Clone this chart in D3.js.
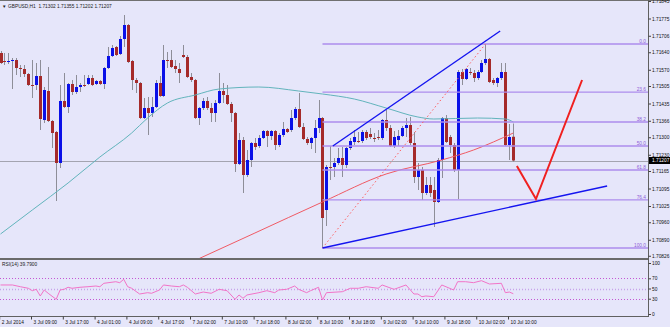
<!DOCTYPE html>
<html>
<head>
<meta charset="utf-8">
<script src="https://cdn.jsdelivr.net/npm/d3@7"></script>
<style>
  body { margin: 0; background: #e6e6fa; }
  svg { display: block; }
</style>
</head>
<body>
<svg id="chart" width="670" height="327"></svg>
<script>
// GBPUSD H1 candles, one entry per bar (bar 0 = first visible bar)
const opens = [1.71637,1.71605,1.71601,1.71605,1.71609,1.71577,1.71573,1.71553,1.71509,1.71509,
  1.71545,1.71369,1.71485,1.71365,1.71321,1.71197,1.71445,1.71421,1.71513,1.71481,
  1.71501,1.71509,1.71513,1.71537,1.71513,1.71525,1.71513,1.71577,1.71625,1.71661,
  1.71633,1.71693,1.71749,1.71605,1.71529,1.71517,1.71377,1.71417,1.71397,1.71421,
  1.71517,1.71465,1.71609,1.71609,1.71585,1.71573,1.71629,1.71621,1.71541,1.71529,
  1.71377,1.71417,1.71445,1.71417,1.71397,1.71437,1.71485,1.71469,1.71433,1.71397,
  1.71193,1.71289,1.71149,1.71209,1.71277,1.71265,1.71297,1.71325,1.71305,1.71325,
  1.71269,1.71309,1.71333,1.71329,1.71377,1.71413,1.71341,1.71293,1.71277,1.71297,
  1.71337,1.71377,1.71009,1.71181,1.71181,1.71197,1.71217,1.71189,1.71257,1.71281,
  1.71285,1.71285,1.71321,1.71313,1.71297,1.71301,1.71297,1.71369,1.71337,1.71265,
  1.71289,1.71305,1.71337,1.71349,1.71277,1.71141,1.71169,1.71077,1.71109,1.71089,
  1.71041,1.71209,1.71377,1.71301,1.71269,1.71169,1.71561,1.71533,1.71561,1.71557,
  1.71537,1.71561,1.71597,1.71613,1.71529,1.71517,1.71537,1.71561,1.71269,1.71302];
const highs = [1.71645,1.71637,1.71637,1.71617,1.71617,1.71589,1.71589,1.71557,1.71609,1.71597,
  1.71609,1.71501,1.71581,1.71369,1.71325,1.71509,1.71557,1.71517,1.71529,1.71549,
  1.71517,1.71549,1.71549,1.71549,1.71529,1.71529,1.71581,1.71661,1.71669,1.71665,
  1.71705,1.71789,1.71753,1.71609,1.71537,1.71521,1.71457,1.71461,1.71461,1.71529,
  1.71545,1.71669,1.71641,1.71649,1.71609,1.71597,1.71669,1.71629,1.71557,1.71533,
  1.71421,1.71457,1.71461,1.71437,1.71449,1.71557,1.71517,1.71509,1.71441,1.71401,
  1.71317,1.71301,1.71249,1.71281,1.71297,1.71309,1.71329,1.71329,1.71329,1.71329,
  1.71317,1.71361,1.71337,1.71409,1.71421,1.71477,1.71357,1.71301,1.71301,1.71369,
  1.71449,1.71381,1.71189,1.71265,1.71217,1.71257,1.71261,1.71261,1.71297,1.71329,
  1.71321,1.71329,1.71329,1.71337,1.71317,1.71329,1.71373,1.71409,1.71349,1.71325,
  1.71329,1.71345,1.71377,1.71381,1.71321,1.71197,1.71181,1.71141,1.71141,1.71141,
  1.71217,1.71381,1.71389,1.71309,1.71277,1.71569,1.71573,1.71577,1.71577,1.71569,
  1.71569,1.71609,1.71673,1.71617,1.71537,1.71541,1.71597,1.71597,1.71353,1.71355];
const lows = [1.71593,1.71589,1.71593,1.71493,1.71549,1.71541,1.71541,1.71505,1.71457,1.71489,
  1.71329,1.71357,1.71361,1.71257,1.71045,1.71177,1.71417,1.71397,1.71469,1.71473,
  1.71481,1.71501,1.71509,1.71505,1.71509,1.71509,1.71493,1.71573,1.71621,1.71625,
  1.71629,1.71661,1.71597,1.71489,1.71477,1.71373,1.71373,1.71309,1.71381,1.71417,
  1.71461,1.71461,1.71577,1.71577,1.71557,1.71517,1.71617,1.71537,1.71521,1.71373,
  1.71349,1.71409,1.71409,1.71361,1.71361,1.71433,1.71437,1.71429,1.71361,1.71161,
  1.71189,1.71077,1.71141,1.71181,1.71249,1.71257,1.71293,1.71261,1.71289,1.71249,
  1.71261,1.71301,1.71317,1.71321,1.71369,1.71337,1.71289,1.71269,1.71253,1.71237,
  1.71317,1.70857,1.70945,1.71129,1.71141,1.71189,1.71141,1.71177,1.71249,1.71269,
  1.71277,1.71277,1.71289,1.71293,1.71281,1.71289,1.71289,1.71325,1.71261,1.71257,
  1.71265,1.71301,1.71301,1.71269,1.71117,1.71089,1.71049,1.71069,1.71061,1.70941,
  1.71037,1.71137,1.71277,1.71237,1.71161,1.71053,1.71509,1.71529,1.71549,1.71521,
  1.71529,1.71557,1.71589,1.71517,1.71509,1.71501,1.71529,1.71265,1.71209,1.71202];
const closes = [1.71597,1.71601,1.71605,1.71609,1.71577,1.71573,1.71553,1.71509,1.71505,1.71545,
  1.71373,1.71489,1.71365,1.71317,1.71197,1.71445,1.71421,1.71513,1.71481,1.71501,
  1.71509,1.71505,1.71537,1.71509,1.71525,1.71513,1.71577,1.71625,1.71657,1.71629,
  1.71693,1.71749,1.71601,1.71529,1.71517,1.71377,1.71417,1.71397,1.71421,1.71517,
  1.71465,1.71609,1.71605,1.71581,1.71573,1.71557,1.71621,1.71541,1.71529,1.71377,
  1.71417,1.71445,1.71417,1.71397,1.71437,1.71485,1.71469,1.71433,1.71397,1.71193,
  1.71289,1.71149,1.71209,1.71277,1.71261,1.71297,1.71325,1.71305,1.71325,1.71269,
  1.71309,1.71333,1.71321,1.71377,1.71413,1.71341,1.71293,1.71277,1.71297,1.71337,
  1.71377,1.70977,1.71181,1.71177,1.71197,1.71217,1.71189,1.71257,1.71285,1.71301,
  1.71281,1.71321,1.71297,1.71301,1.71293,1.71297,1.71369,1.71337,1.71265,1.71301,
  1.71305,1.71337,1.71349,1.71277,1.71141,1.71169,1.71077,1.71109,1.71077,1.71041,
  1.71209,1.71377,1.71281,1.71269,1.71169,1.71561,1.71533,1.71573,1.71557,1.71537,
  1.71561,1.71597,1.71613,1.71521,1.71517,1.71537,1.71561,1.71269,1.71301,1.71207];

// moving averages, read at sample bars
const tealMaBars = [0,8,17,25,33,37,42,49,55,65,75,81,89,97,105,109,120,127,129];
const tealMaVals = [1.70913,1.71009,1.71117,1.71221,1.71317,1.71377,1.71437,1.71469,1.71493,1.71501,
  1.71485,1.71473,1.71453,1.71417,1.71381,1.71373,1.71377,1.71373,1.71361];
const redMaBars = [50,64,81,97,111,119,129];
const redMaVals = [1.70815,1.70917,1.71041,1.71153,1.71209,1.71249,1.71317];

// RSI(14) read at sample bars
const rsiBars = [0,3,5,7,8,9,10,11,12,14,15,16,17,18,20,22,24,25,26,29,30,31,32,33,35,37,38,40,41,43,
  45,46,47,49,51,53,55,57,59,60,61,62,65,67,69,70,72,74,75,77,78,80,81,82,86,88,90,92,95,96,
  99,102,104,105,106,107,109,111,114,115,117,119,121,123,126,127,128,129];
const rsiVals = [56.9,56.9,53.5,50.4,45.7,48.4,35.3,47.1,40.6,28.8,47.1,48.4,52.4,50.4,52.4,53.5,54.9,53.5,60.2,63.3,
  61.4,68.0,53.5,50.4,39.2,41.8,40.6,47.1,56.9,54.9,53.5,56.9,52.4,39.2,43.1,40.6,48.4,45.7,28.8,37.3,
  30.8,37.3,41.8,45.7,41.8,47.1,48.4,54.9,48.4,41.8,45.7,52.4,27.5,41.8,43.7,50.4,50.4,53.5,50.4,56.9,
  48.4,56.9,39.2,39.2,33.9,35.3,33.9,56.9,47.1,63.3,63.3,61.4,65.3,58.8,60.2,41.8,43.1,39.79];
const rsiLevels = [70, 50, 30];
const rsiTicks = [100, 70, 50, 30, 0];

// fibonacci retracement drawn from the bar 81 low to the bar 122 high
const fibLevels = [0, 23.6, 38.2, 50, 61.8, 76.4, 100];
const fibLowBar = 81, fibHighBar = 122;

// hand-drawn objects: [bar, price] anchors
const upperTrend = [[83.6, 1.71265], [125.7, 1.71725]];
const lowerTrend = [[81, 1.70857], [152.6, 1.71105]];
const arrowPath = [[129.9, 1.71185], [134.7, 1.71053], [146.3, 1.71529]];

const priceTicks = [1.71845,1.71775,1.71706,1.71640,1.71570,1.71505,1.71435,1.71366,1.71300,1.71230,
  1.71165,1.71095,1.71025,1.70960,1.70890,1.70826];
const timeTickBars = [0,8,16,24,32,40,48,56,64,72,80,88,96,104,112,120,128];
const timeLabels = ["2 Jul 2014","3 Jul 09:00","3 Jul 17:00","4 Jul 01:00","4 Jul 09:00","4 Jul 17:00",
  "7 Jul 02:00","7 Jul 10:00","7 Jul 18:00","8 Jul 02:00","8 Jul 10:00","8 Jul 18:00","9 Jul 02:00",
  "9 Jul 10:00","9 Jul 18:00","10 Jul 02:00","10 Jul 10:00"];

const W = 648, mainBottom = 258, rsiTop = 260, rsiBottom = 316;
const font = "'Liberation Sans', Arial, sans-serif";
const fs = 4.8;

const svg = d3.select("#chart");
svg.append("rect").attr("width", 670).attr("height", 327).attr("fill", "#e6e6fa");

const x = d3.scaleLinear().domain([0, 129]).range([0.5, 513.3]);
const y = d3.scaleLinear().domain([1.70825, 1.71849]).range([256, 0]);
const ry = d3.scaleLinear().domain([0, 100]).range([314, 263]);

const defs = svg.append("defs");
defs.append("clipPath").attr("id", "clipMain").append("rect")
  .attr("x", 0).attr("y", 0).attr("width", W).attr("height", mainBottom);
defs.append("clipPath").attr("id", "clipRsi").append("rect")
  .attr("x", 0).attr("y", rsiTop).attr("width", W).attr("height", rsiBottom - rsiTop);

const main = svg.append("g").attr("clip-path", "url(#clipMain)");
const last = closes[closes.length - 1];

// current price line
main.append("line")
  .attr("x1", 0).attr("x2", W)
  .attr("y1", Math.round(y(last)) + 0.5).attr("y2", Math.round(y(last)) + 0.5)
  .attr("stroke", "#a4a4b0").attr("stroke-width", 1);

const bars = opens.map((o, i) => ({ i: i, o: o, h: highs[i], l: lows[i], c: closes[i] }));

main.selectAll("line.wick")
  .data(bars)
  .join("line")
  .attr("class", "wick")
  .attr("x1", d => Math.round(x(d.i)) + 0.5)
  .attr("x2", d => Math.round(x(d.i)) + 0.5)
  .attr("y1", d => y(d.h))
  .attr("y2", d => y(d.l))
  .attr("stroke", "#8e8e98")
  .attr("stroke-width", 1);

main.selectAll("rect.body")
  .data(bars)
  .join("rect")
  .attr("class", "body")
  .attr("x", d => Math.round(x(d.i)) - 1)
  .attr("width", 3)
  .attr("y", d => Math.min(y(d.o), y(d.c)))
  .attr("height", d => Math.max(1, Math.abs(y(d.o) - y(d.c))))
  .attr("fill", d => d.c > d.o ? "#0a10e8" : (d.c < d.o ? "#a52a2a" : "#303030"));

// moving averages
const maLine = d3.line().x(d => x(d[0])).y(d => y(d[1])).curve(d3.curveMonotoneX);
main.append("path")
  .attr("d", maLine(tealMaBars.map((b, i) => [b, tealMaVals[i]])))
  .attr("fill", "none").attr("stroke", "#62b4bc").attr("stroke-width", 1);
main.append("path")
  .attr("d", maLine(redMaBars.map((b, i) => [b, redMaVals[i]])))
  .attr("fill", "none").attr("stroke", "#f05a64").attr("stroke-width", 1);

// fibonacci levels
const fibHigh = highs[fibHighBar], fibLow = lows[fibLowBar];
const fibPrice = lv => fibHigh - (fibHigh - fibLow) * lv / 100;
main.selectAll("line.fib")
  .data(fibLevels)
  .join("line")
  .attr("class", "fib")
  .attr("x1", x(fibLowBar)).attr("x2", W)
  .attr("y1", d => y(fibPrice(d))).attr("y2", d => y(fibPrice(d)))
  .attr("stroke", "#ad8ded").attr("stroke-width", 1.4);
main.selectAll("text.fib")
  .data(fibLevels)
  .join("text")
  .attr("class", "fib")
  .attr("x", W - 2)
  .attr("y", d => y(fibPrice(d)) - 1.2)
  .attr("text-anchor", "end")
  .attr("font-family", font).attr("font-size", fs)
  .attr("fill", "#8e5ed8")
  .text(d => d.toFixed(1));

// fib base line
main.append("line")
  .attr("x1", x(fibLowBar)).attr("y1", y(fibLow))
  .attr("x2", x(fibHighBar)).attr("y2", y(fibHigh))
  .attr("stroke", "#ff5a5a").attr("stroke-width", 1)
  .attr("stroke-dasharray", "1.5,2.5");

// trend lines and arrow
const objLine = d3.line().x(d => x(d[0])).y(d => y(d[1]));
main.append("path").attr("d", objLine(upperTrend))
  .attr("fill", "none").attr("stroke", "#1414f0").attr("stroke-width", 1.4);
main.append("path").attr("d", objLine(lowerTrend))
  .attr("fill", "none").attr("stroke", "#1414f0").attr("stroke-width", 1.4);
main.append("path").attr("d", objLine(arrowPath))
  .attr("fill", "none").attr("stroke", "#f02020").attr("stroke-width", 2)
  .attr("stroke-linejoin", "miter");

// header
svg.append("text").attr("x", 2).attr("y", 7.5)
  .attr("font-family", font).attr("font-size", 4.5).attr("fill", "#202020")
  .text("\u25BC");
svg.append("text").attr("x", 8).attr("y", 7.5)
  .attr("font-family", font).attr("font-size", fs).attr("fill", "#202020")
  .attr("xml:space", "preserve")
  .text("GBPUSD,H1  1.71302 1.71355 1.71202 1.71207");

// RSI panel
const rsi = svg.append("g").attr("clip-path", "url(#clipRsi)");
rsi.selectAll("line.lvl")
  .data(rsiLevels)
  .join("line")
  .attr("class", "lvl")
  .attr("x1", 0).attr("x2", W)
  .attr("y1", d => Math.round(ry(d)) + 0.5).attr("y2", d => Math.round(ry(d)) + 0.5)
  .attr("stroke", d => d === 50 ? "#c7a2ea" : "#c457d4")
  .attr("stroke-width", d => d === 50 ? 1.4 : 1)
  .attr("stroke-dasharray", "1,2");
rsi.append("path")
  .attr("d", d3.line().x(d => x(d[0])).y(d => ry(d[1]))(rsiBars.map((b, i) => [b, rsiVals[i]])))
  .attr("fill", "none").attr("stroke", "#f274c8").attr("stroke-width", 1);
svg.append("text").attr("x", 2).attr("y", 266)
  .attr("font-family", font).attr("font-size", fs).attr("fill", "#202020")
  .text("RSI(14) " + rsiVals[rsiVals.length - 1].toFixed(4));

// frame lines
svg.append("line").attr("x1", 0).attr("x2", 670).attr("y1", 0.5).attr("y2", 0.5)
  .attr("stroke", "#707070");
svg.append("line").attr("x1", 0).attr("x2", W).attr("y1", 259).attr("y2", 259)
  .attr("stroke", "#6a6a6a").attr("stroke-width", 2);
svg.append("line").attr("x1", 0).attr("x2", W + 0.5).attr("y1", rsiBottom + 0.5).attr("y2", rsiBottom + 0.5)
  .attr("stroke", "#606060");
svg.append("line").attr("x1", W + 0.5).attr("x2", W + 0.5).attr("y1", 0).attr("y2", rsiBottom + 1)
  .attr("stroke", "#606060");

function styleAxis(g) {
  g.select(".domain").remove();
  g.attr("font-family", font).attr("font-size", fs).attr("color", "#404040");
  g.selectAll("text").attr("fill", "#101010");
}

// price axis
svg.append("g")
  .attr("transform", `translate(${W + 0.5},0)`)
  .call(d3.axisRight(y).tickValues(priceTicks).tickFormat(d3.format(".5f")).tickSize(2.5).tickPadding(1))
  .call(styleAxis);

// current price box
svg.append("rect")
  .attr("x", W + 1).attr("y", y(last) - 3.5)
  .attr("width", 670 - W - 1).attr("height", 7)
  .attr("fill", "#000");
svg.append("text")
  .attr("x", W + 4).attr("y", y(last)).attr("dy", "0.35em")
  .attr("font-family", font).attr("font-size", fs).attr("fill", "#fff")
  .text(d3.format(".5f")(last));

// RSI axis
svg.append("g")
  .attr("transform", `translate(${W + 0.5},0)`)
  .call(d3.axisRight(ry).tickValues(rsiTicks).tickSize(2.5).tickPadding(1))
  .call(styleAxis);

// time axis
svg.append("g")
  .attr("transform", `translate(-1.3,${rsiBottom + 0.5})`)
  .call(d3.axisBottom(x).tickValues(timeTickBars).tickFormat((d, i) => timeLabels[i]).tickSize(3).tickPadding(1.5))
  .call(styleAxis)
  .call(g => g.selectAll("text").attr("text-anchor", "start").attr("x", 2));
</script>
</body>
</html>
